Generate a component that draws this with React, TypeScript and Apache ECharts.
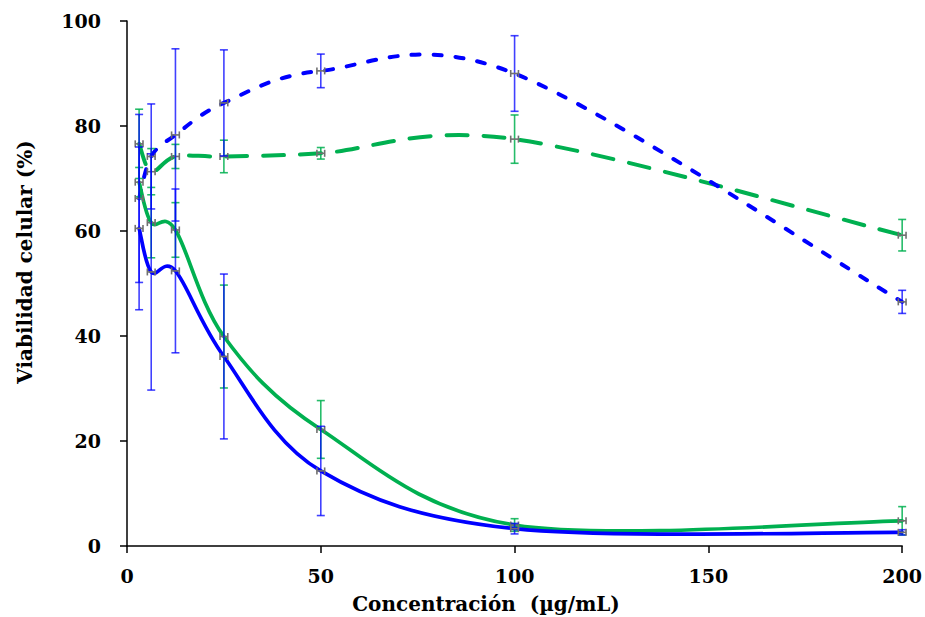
import React, { useEffect, useRef } from 'react';
import * as echarts from 'echarts';

// Concentrations (µg/mL)
const concentrations = [3.125, 6.25, 12.5, 25, 50, 100, 200];

// Cell viability (%) and standard deviations for each curve
const blueDashed = [66.2, 74.2, 78.3, 84.4, 90.5, 90.0, 46.5];
const blueDashedErr = [16.0, 10.0, 16.4, 10.1, 3.2, 7.2, 2.2];
const greenDashed = [76.6, 71.3, 74.2, 74.2, 74.8, 77.5, 59.2];
const greenDashedErr = [6.6, 4.4, 2.3, 3.1, 1.1, 4.6, 3.0];
const greenSolid = [69.3, 61.6, 60.2, 39.9, 22.2, 4.0, 4.8];
const greenSolidErr = [2.8, 6.7, 5.2, 9.8, 5.5, 1.2, 2.7];
const blueSolid = [60.5, 52.2, 52.4, 36.1, 14.3, 3.3, 2.6];
const blueSolidErr = [15.5, 22.5, 15.6, 15.7, 8.5, 1.0, 0.5];
// horizontal (x) error of each point
const xErr = [1, 1, 1, 1, 1, 1, 1];

// Axes
const xMin = 0, xMax = 200, xStep = 50;
const yMin = 0, yMax = 100, yStep = 20;
const xTitle = 'Concentración  (µg/mL)';
const yTitle = 'Viabilidad celular (%)';

const BLUE = '#0000ff';
const GREEN = '#00b050';
const FONT = '"DejaVu Serif", "Liberation Serif", serif';

function smoothPath(pts: number[][]): string {
  let d = `M${pts[0][0]},${pts[0][1]}`;
  const n = pts.length;
  for (let i = 0; i < n - 1; i++) {
    const p0 = pts[Math.max(i - 1, 0)];
    const p1 = pts[i];
    const p2 = pts[i + 1];
    const p3 = pts[Math.min(i + 2, n - 1)];
    const c1x = p1[0] + (p2[0] - p0[0]) / 6;
    const c1y = p1[1] + (p2[1] - p0[1]) / 6;
    const c2x = p2[0] - (p3[0] - p1[0]) / 6;
    const c2y = p2[1] - (p3[1] - p1[1]) / 6;
    d += ` C${c1x},${c1y} ${c2x},${c2y} ${p2[0]},${p2[1]}`;
  }
  return d;
}

function curveSeries(ys: number[], color: string, dash: number[] | null, width: number) {
  return {
    type: 'custom',
    coordinateSystem: 'cartesian2d',
    data: concentrations.map((x, i) => [x, ys[i]]),
    z: 2,
    clip: false,
    renderItem: (params: any, api: any) => {
      if (params.dataIndex !== 0) return null;
      const pts = concentrations.map((x, i) => api.coord([x, ys[i]]));
      return {
        type: 'path',
        shape: { pathData: smoothPath(pts) },
        style: {
          fill: 'none',
          stroke: color,
          lineWidth: width,
          lineDash: dash || undefined,
          lineCap: 'round',
          lineJoin: 'round',
        },
      };
    },
  };
}

function errorSeries(ys: number[], errs: number[], color: string) {
  return {
    type: 'custom',
    coordinateSystem: 'cartesian2d',
    data: concentrations.map((x, i) => [x, ys[i], errs[i], xErr[i]]),
    z: 3,
    clip: false,
    renderItem: (params: any, api: any) => {
      const x = api.value(0);
      const y = api.value(1);
      const e = api.value(2);
      const xe = api.value(3);
      const top = api.coord([x, y + e]);
      const bot = api.coord([x, y - e]);
      const l = api.coord([x - xe, y]);
      const r = api.coord([x + xe, y]);
      const cap = 4;
      const hcap = 3.5;
      const vs = { stroke: color, lineWidth: 1.6 };
      const hs = { stroke: '#707070', lineWidth: 1.6 };
      return {
        type: 'group',
        children: [
          { type: 'line', shape: { x1: top[0], y1: top[1], x2: bot[0], y2: bot[1] }, style: vs },
          { type: 'line', shape: { x1: top[0] - cap, y1: top[1], x2: top[0] + cap, y2: top[1] }, style: vs },
          { type: 'line', shape: { x1: bot[0] - cap, y1: bot[1], x2: bot[0] + cap, y2: bot[1] }, style: vs },
          { type: 'line', shape: { x1: l[0], y1: l[1], x2: r[0], y2: r[1] }, style: hs },
          { type: 'line', shape: { x1: l[0], y1: l[1] - hcap, x2: l[0], y2: l[1] + hcap }, style: hs },
          { type: 'line', shape: { x1: r[0], y1: r[1] - hcap, x2: r[0], y2: r[1] + hcap }, style: hs },
        ],
      };
    },
  };
}

export default function App() {
  const ref = useRef<HTMLDivElement>(null);
  useEffect(() => {
    if (!ref.current) return;
    const chart = echarts.init(ref.current, undefined, { renderer: 'svg' });
    const axisCommon = {
      type: 'value',
      axisLine: { show: true, lineStyle: { color: '#000', width: 1.5 } },
      axisTick: { show: true, inside: false, length: 7, lineStyle: { color: '#000', width: 1.5 } },
      splitLine: { show: false },
    };
    chart.setOption({
      animation: false,
      backgroundColor: '#fff',
      grid: { left: 127, right: 20, top: 21, bottom: 71, containLabel: false },
      xAxis: {
        ...axisCommon,
        min: xMin,
        max: xMax,
        interval: xStep,
        axisLabel: { margin: 20, fontFamily: FONT, fontWeight: 'bold', fontSize: 19, color: '#000' },
      },
      yAxis: {
        ...axisCommon,
        min: yMin,
        max: yMax,
        interval: yStep,
        axisLabel: { margin: 26, fontFamily: FONT, fontWeight: 'bold', fontSize: 19, color: '#000' },
      },
      graphic: [
        {
          type: 'text',
          x: 486,
          y: 604,
          style: {
            text: xTitle,
            fontFamily: FONT,
            fontWeight: 'bold',
            fontSize: 20,
            fill: '#000',
            textAlign: 'center',
            textVerticalAlign: 'middle',
          },
        },
        {
          type: 'text',
          x: 25,
          y: 262,
          rotation: Math.PI / 2,
          style: {
            text: yTitle,
            fontFamily: FONT,
            fontWeight: 'bold',
            fontSize: 20,
            fill: '#000',
            textAlign: 'center',
            textVerticalAlign: 'middle',
          },
        },
      ],
      series: [
        curveSeries(greenDashed, GREEN, [21, 16], 4),
        curveSeries(blueDashed, BLUE, [8, 14], 4),
        curveSeries(greenSolid, GREEN, null, 3.7),
        curveSeries(blueSolid, BLUE, null, 3.7),
        errorSeries(greenDashed, greenDashedErr, 'rgba(0,176,80,0.85)'),
        errorSeries(greenSolid, greenSolidErr, 'rgba(0,176,80,0.85)'),
        errorSeries(blueDashed, blueDashedErr, 'rgba(0,0,255,0.75)'),
        errorSeries(blueSolid, blueSolidErr, 'rgba(0,0,255,0.75)'),
      ],
    });
    return () => chart.dispose();
  }, []);
  return (
    <div
      ref={ref}
      style={{ position: 'fixed', left: 0, top: 0, width: 925, height: 617, background: '#fff' }}
    />
  );
}
